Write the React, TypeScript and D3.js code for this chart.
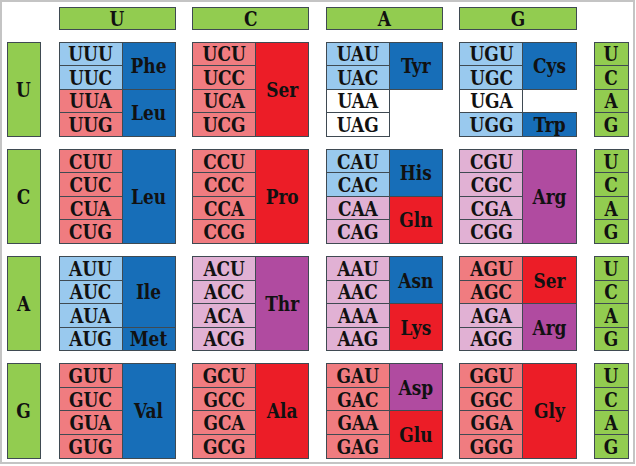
import * as d3 from 'd3';
import React from 'react';

// bases used for 1st, 2nd and 3rd position
const bases = ['U', 'C', 'A', 'G'];

// codon cell class, one string of 4 per (first, second) block, third base order U C A G
// l = light blue, s = salmon, p = pink, w = white (stop)
const codonClass: string[][] = [
    ['llss', 'ssss', 'llww', 'llwl'],
    ['ssss', 'ssss', 'llpp', 'pppp'],
    ['llll', 'pppp', 'pppp', 'sspp'],
    ['ssss', 'ssss', 'ssss', 'ssss'],
];

// amino acid segments: [first, second, label, startThird, count, class]
// b = dark blue, r = red, m = purple
const aaSegments: [number, number, string, number, number, string][] = [
    [0, 0, 'Phe', 0, 2, 'b'], [0, 0, 'Leu', 2, 2, 'b'],
    [0, 1, 'Ser', 0, 4, 'r'],
    [0, 2, 'Tyr', 0, 2, 'b'],
    [0, 3, 'Cys', 0, 2, 'b'], [0, 3, 'Trp', 3, 1, 'b'],
    [1, 0, 'Leu', 0, 4, 'b'],
    [1, 1, 'Pro', 0, 4, 'r'],
    [1, 2, 'His', 0, 2, 'b'], [1, 2, 'Gln', 2, 2, 'r'],
    [1, 3, 'Arg', 0, 4, 'm'],
    [2, 0, 'Ile', 0, 3, 'b'], [2, 0, 'Met', 3, 1, 'b'],
    [2, 1, 'Thr', 0, 4, 'm'],
    [2, 2, 'Asn', 0, 2, 'b'], [2, 2, 'Lys', 2, 2, 'r'],
    [2, 3, 'Ser', 0, 2, 'r'], [2, 3, 'Arg', 2, 2, 'm'],
    [3, 0, 'Val', 0, 4, 'b'],
    [3, 1, 'Ala', 0, 4, 'r'],
    [3, 2, 'Asp', 0, 2, 'm'], [3, 2, 'Glu', 2, 2, 'r'],
    [3, 3, 'Gly', 0, 4, 'r'],
];

const fills: Record<string, string> = {
    l: '#99c9ee', s: '#f07c80', p: '#e1b1d4', w: '#ffffff',
    b: '#176eb8', r: '#ec1d27', m: '#b04ba0',
};
const green = '#92cc50';
const stroke = '#3f4a52';
const font = 'DejaVu Serif, serif';

const App = () => {
    const W = 636, H = 466;
    const x = d3.scaleBand().domain(bases).range([59, 576]).paddingInner(0.132);
    const y = d3.scaleBand().domain(bases).range([42, 458]).paddingInner(0.122);
    const third = d3.scaleBand().domain(bases).range([0, y.bandwidth()]);
    const codonW = 63;
    // glyphs in the original are taller than wide, so stretch them a little
    const txt = (tx: number, ty: number, s: string, key: string) =>
        <text key={key} transform={`translate(${tx},${ty + 7.5}) scale(1,1.2)`} textAnchor="middle"
            style={{ fontFamily: font, fontWeight: 'bold', fontSize: '17px' }} fill="#111">{s}</text>;

    const rects: JSX.Element[] = [];
    const texts: JSX.Element[] = [];
    // headers for second base
    bases.forEach(b => {
        rects.push(<rect key={'h' + b} x={x(b)} y={7} width={x.bandwidth()} height={22} fill={green} stroke={stroke} />);
        texts.push(txt(x(b)! + x.bandwidth() / 2, 18, b, 'ht' + b));
    });
    bases.forEach((f, i) => {
        const y0 = y(f)!;
        // first base
        rects.push(<rect key={'f' + f} x={7} y={y0} width={33} height={y.bandwidth()} fill={green} stroke={stroke} />);
        texts.push(txt(23.5, y0 + y.bandwidth() / 2, f, 'ft' + f));
        // third base column
        bases.forEach(t => {
            rects.push(<rect key={'t' + f + t} x={594} y={y0 + third(t)!} width={34} height={third.bandwidth()} fill={green} stroke={stroke} />);
            texts.push(txt(611, y0 + third(t)! + third.bandwidth() / 2, t, 'tt' + f + t));
        });
        bases.forEach((s, j) => {
            const x0 = x(s)!;
            bases.forEach((t, k) => {
                const c = codonClass[i][j][k];
                rects.push(<rect key={'c' + f + s + t} x={x0} y={y0 + third(t)!} width={codonW} height={third.bandwidth()} fill={fills[c]} stroke={stroke} />);
                texts.push(txt(x0 + codonW / 2, y0 + third(t)! + third.bandwidth() / 2, f + s + t, 'ct' + f + s + t));
            });
        });
    });
    aaSegments.forEach(([i, j, label, st, n, c], idx) => {
        const x0 = x(bases[j])! + codonW;
        const w = x.bandwidth() - codonW;
        const y0 = y(bases[i])! + third(bases[st])!;
        const h = third.step() * n;
        rects.push(<rect key={'a' + idx} x={x0} y={y0} width={w} height={h} fill={fills[c]} stroke={stroke} />);
        texts.push(txt(x0 + w / 2, y0 + h / 2, label, 'at' + idx));
    });

    return (
        <svg width={W} height={H} style={{ position: 'absolute', left: 0, top: 0 }}>
            <rect x={0} y={0} width={W} height={H} fill="#fff" />
            <rect x={1} y={1} width={633} height={462} fill="none" stroke="#c4c4c4" strokeWidth={2} />
            <g shapeRendering="crispEdges">{rects}</g>
            <g>{texts}</g>
        </svg>
    );
};
export default App;
